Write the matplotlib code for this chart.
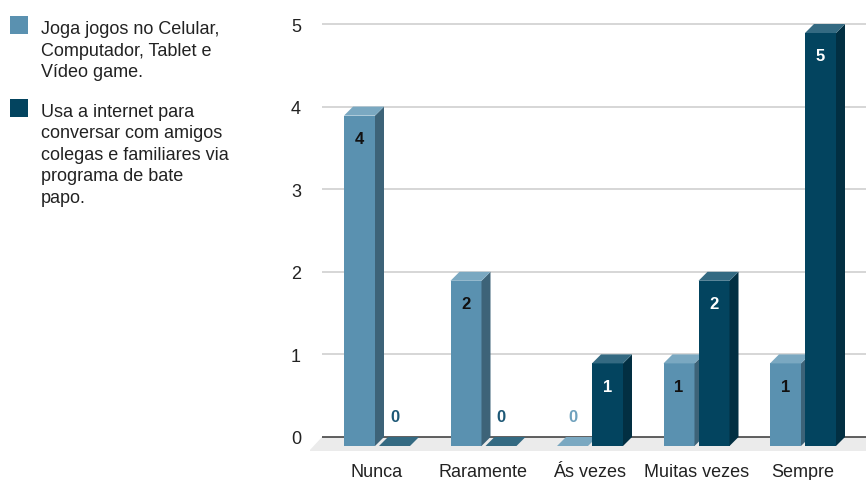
import matplotlib
matplotlib.use("Agg")
import matplotlib.pyplot as plt
from matplotlib.patches import Polygon, Rectangle

plt.rcParams['font.family'] = ['Liberation Sans', 'DejaVu Sans']

categories = ["Nunca", "Raramente", "Ás vezes", "Muitas vezes", "Sempre"]
series_names = [
    ["Joga jogos no Celular,", "Computador, Tablet e", "Vídeo game."],
    ["Usa a internet para", "conversar com amigos", "colegas e familiares via",
     "programa de bate", "papo."],
]
jogos = [4, 2, 0, 1, 1]
internet = [0, 0, 1, 2, 5]
series = [jogos, internet]

# face colours per series: front, side, top
front_colors = ["#5a91b0", "#03445f"]
side_colors = ["#3d6378", "#022f42"]
top_colors = ["#7aa8c1", "#346a82"]
label_colors = ["#111111", "#ffffff"]
zero_label_colors = ["#6fa1bd", "#1d5876"]

W, H = 866, 481
fig = plt.figure(figsize=(W / 100, H / 100), dpi=100)

# pixel geometry of the plot area
px_x0 = 377.0        # pixel centre of first category
px_per_cat = 106.5
px_y0 = 438.0        # pixel of value 0
px_per_unit = 82.6
ax_left_px, ax_right_px = 310, 866
ymin, ymax = -0.30, 5.15

xlim = ((ax_left_px - px_x0) / px_per_cat, (ax_right_px - px_x0) / px_per_cat)
ax_top_px = px_y0 - ymax * px_per_unit
ax_bot_px = px_y0 - ymin * px_per_unit
ax = fig.add_axes([ax_left_px / W, 1 - ax_bot_px / H,
                   (ax_right_px - ax_left_px) / W, (ax_bot_px - ax_top_px) / H])
ax.set_xlim(*xlim)
ax.set_ylim(ymin, ymax)
for s in ax.spines.values():
    s.set_visible(False)

# 3D depth offsets (in data units)
dx = 9 / px_per_cat
dy = 9 / px_per_unit
floor_dx = 13 / px_per_cat
floor_dy = 14 / px_per_unit
grid_left = (322 - px_x0) / px_per_cat
grid_right = xlim[1]

# floor
ax.add_patch(Polygon([(grid_left, 0), (grid_right + 0.2, 0),
                      (grid_right + 0.2 - floor_dx, -floor_dy),
                      (grid_left - floor_dx, -floor_dy)],
                     closed=True, facecolor="#ebebeb", edgecolor="none", zorder=0))
# gridlines and baseline
ax.hlines(range(1, 6), grid_left, grid_right, colors="#cccccc", lw=1.1, zorder=1)
ax.hlines(0, grid_left, grid_right, colors="#444444", lw=1.2, zorder=1)

bar_w = 31 / px_per_cat
gap = 2 / px_per_cat
offsets = [-gap - bar_w, gap]

for i in range(len(categories)):
    for k, vals in enumerate(series):
        v = vals[i]
        x0 = i + offsets[k]
        x1 = x0 + bar_w
        z = 3 + i * 2 + k
        if v > 0:
            ax.bar(x0, v, width=bar_w, bottom=-dy, align="edge",
                   color=front_colors[k], edgecolor="none", zorder=z)
            ax.add_patch(Polygon([(x1, -dy), (x1 + dx, 0), (x1 + dx, v), (x1, v - dy)],
                                 closed=True, facecolor=side_colors[k],
                                 edgecolor="none", zorder=z))
        ax.add_patch(Polygon([(x0, v - dy), (x1, v - dy), (x1 + dx, v), (x0 + dx, v)],
                             closed=True, facecolor=top_colors[k],
                             edgecolor="none", zorder=z))
        xc = (x0 + x1) / 2
        if v > 0:
            ax.annotate(str(v), (xc, v - dy), xytext=(0, -16.5), textcoords="offset points",
                        ha="center", va="center", fontsize=12, fontweight="bold",
                        color=label_colors[k], zorder=20)
        else:
            ax.annotate(str(v), (xc, 0), xytext=(0, 15), textcoords="offset points",
                        ha="center", va="center", fontsize=12, fontweight="bold",
                        color=zero_label_colors[k], zorder=20)

ax.set_xticks(range(len(categories)))
ax.set_xticklabels(categories, fontsize=13, color="#222222")
ax.set_yticks(range(0, 6))
ax.set_yticklabels([str(t) for t in range(0, 6)], fontsize=13, color="#222222")
ax.tick_params(axis="both", length=0)
ax.tick_params(axis="x", pad=0.6)
ax.tick_params(axis="y", pad=6.5)

# legend
square_tops = [17, 100]
first_baselines = [34, 116.7]
line_step = 21.5
for k, lines in enumerate(series_names):
    top = square_tops[k]
    fig.patches.append(Rectangle((9.5 / W, 1 - (top + 18) / H), 18.5 / W, 18 / H,
                                 transform=fig.transFigure, facecolor=front_colors[k],
                                 edgecolor="none"))
    for j, line in enumerate(lines):
        base = first_baselines[k] + j * line_step
        fig.text(41 / W, 1 - base / H, line, fontsize=13, color="#222222",
                 ha="left", va="baseline")

fig.savefig("out.png", dpi=100)
